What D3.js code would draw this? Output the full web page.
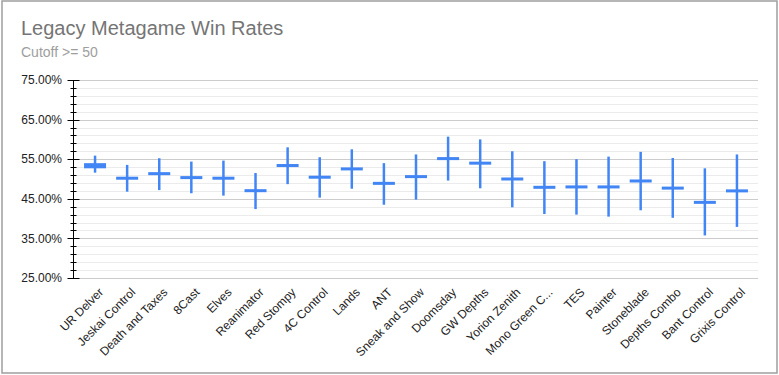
<!DOCTYPE html>
<html>
<head>
<meta charset="utf-8">
<script src="https://cdn.jsdelivr.net/npm/d3@7"></script>
<style>
  html, body { margin: 0; padding: 0; background: #fff; }
  svg { display: block; font-family: Arial, "Liberation Sans", sans-serif; }
</style>
</head>
<body>
<svg id="chart" width="779" height="375"></svg>
<script>
const categories = ["UR Delver", "Jeskai Control", "Death and Taxes", "8Cast", "Elves", "Reanimator", "Red Stompy", "4C Control", "Lands", "ANT", "Sneak and Show", "Doomsday", "GW Depths", "Yorion Zenith", "Mono Green C...", "TES", "Painter", "Stoneblade", "Depths Combo", "Bant Control", "Grixis Control"];
const lowValues   = [51.6, 46.8, 47.2, 46.4, 45.8, 42.4, 48.7, 45.3, 47.55, 43.5, 44.8, 49.6, 47.65, 42.85, 41.15, 41.0, 40.5, 42.1, 40.2, 35.75, 37.9];
const openValues  = [52.7, 50.2, 51.35, 50.35, 50.2, 47.05, 53.4, 50.45, 52.55, 48.9, 50.6, 55.15, 54.0, 50.0, 47.9, 48.0, 48.0, 49.5, 47.7, 44.1, 47.0];
const closeValues = [54.0, 50.2, 51.35, 50.35, 50.2, 47.05, 53.4, 50.45, 52.55, 48.9, 50.6, 55.15, 54.0, 50.0, 47.9, 48.0, 48.0, 49.5, 47.7, 44.1, 47.0];
const highValues  = [55.9, 53.56, 55.25, 54.4, 54.65, 51.5, 58.0, 55.5, 57.5, 54.0, 56.2, 60.7, 60.0, 57.0, 54.5, 55.0, 55.65, 56.85, 55.3, 52.7, 56.2];
const majorTicks = [25, 35, 45, 55, 65, 75];
const title = "Legacy Metagame Win Rates";
const subtitle = "Cutoff >= 50";

const svg = d3.select("#chart");
const blue = "#4285f4";

// outer frame
svg.append("rect").attr("x", 2).attr("y", 1).attr("width", 775).attr("height", 372)
  .attr("fill", "#fff").attr("stroke", "#9e9e9e").attr("stroke-width", 1.5);

svg.append("text").attr("x", 21).attr("y", 35).attr("font-size", 20).attr("fill", "#757575").text(title);
svg.append("text").attr("x", 21).attr("y", 57).attr("font-size", 14).attr("fill", "#9e9e9e").text(subtitle);

const plotLeft = 74, plotRight = 758;
const y = d3.scaleLinear().domain([25, 75]).range([278, 80]);
const x = d3.scaleBand().domain(categories).range([79, 753]);

const minorTicks = d3.range(25, 75.001, 2).filter(v => !majorTicks.includes(v));

// gridlines
svg.append("g").selectAll("line").data(minorTicks).join("line")
  .attr("x1", plotLeft).attr("x2", plotRight)
  .attr("y1", d => Math.round(y(d)) + 0.5).attr("y2", d => Math.round(y(d)) + 0.5)
  .attr("stroke", "#ebebeb");
svg.append("g").selectAll("line").data(majorTicks).join("line")
  .attr("x1", plotLeft).attr("x2", plotRight)
  .attr("y1", d => Math.round(y(d)) + 0.5).attr("y2", d => Math.round(y(d)) + 0.5)
  .attr("stroke", "#cccccc");

// y axis
const axisX = plotLeft - 0.5;
svg.append("line").attr("x1", axisX).attr("x2", axisX).attr("y1", y(75)).attr("y2", y(25) + 1)
  .attr("stroke", "#000");
svg.append("g").selectAll("line").data(minorTicks).join("line")
  .attr("x1", axisX - 3).attr("x2", axisX + 3)
  .attr("y1", d => Math.round(y(d)) + 0.5).attr("y2", d => Math.round(y(d)) + 0.5)
  .attr("stroke", "#000");
svg.append("g").selectAll("line").data(majorTicks).join("line")
  .attr("x1", axisX - 6).attr("x2", axisX + 6)
  .attr("y1", d => Math.round(y(d)) + 0.5).attr("y2", d => Math.round(y(d)) + 0.5)
  .attr("stroke", "#000");
svg.append("g").selectAll("text").data(majorTicks).join("text")
  .attr("x", 62).attr("y", d => y(d)).attr("dy", "0.35em")
  .attr("text-anchor", "end").attr("font-size", 12).attr("fill", "#222")
  .text(d => d3.format(".2f")(d) + "%");

// x labels
svg.append("g").selectAll("text").data(categories).join("text")
  .attr("transform", d => `translate(${x(d) + x.bandwidth() / 2 + 6},290) rotate(-45)`)
  .attr("dy", "0.35em").attr("text-anchor", "end").attr("font-size", 12).attr("fill", "#222")
  .text(d => d);

// candles
const data = categories.map((c, i) => ({ c, low: lowValues[i], open: openValues[i], close: closeValues[i], high: highValues[i] }));
const g = svg.append("g");
g.selectAll("line.wick").data(data).join("line").attr("class", "wick")
  .attr("x1", d => x(d.c) + x.bandwidth() / 2).attr("x2", d => x(d.c) + x.bandwidth() / 2)
  .attr("y1", d => y(d.high)).attr("y2", d => y(d.low))
  .attr("stroke", blue).attr("stroke-width", 2.5);
const boxW = 22;
g.selectAll("rect.box").data(data).join("rect").attr("class", "box")
  .attr("x", d => x(d.c) + x.bandwidth() / 2 - boxW / 2)
  .attr("width", boxW)
  .attr("y", d => {
    const h = Math.abs(y(d.open) - y(d.close));
    const top = Math.min(y(d.open), y(d.close));
    return h < 3 ? (y(d.open) + y(d.close)) / 2 - 1.5 : top;
  })
  .attr("height", d => Math.max(3, Math.abs(y(d.open) - y(d.close))))
  .attr("fill", blue);
</script>
</body>
</html>
